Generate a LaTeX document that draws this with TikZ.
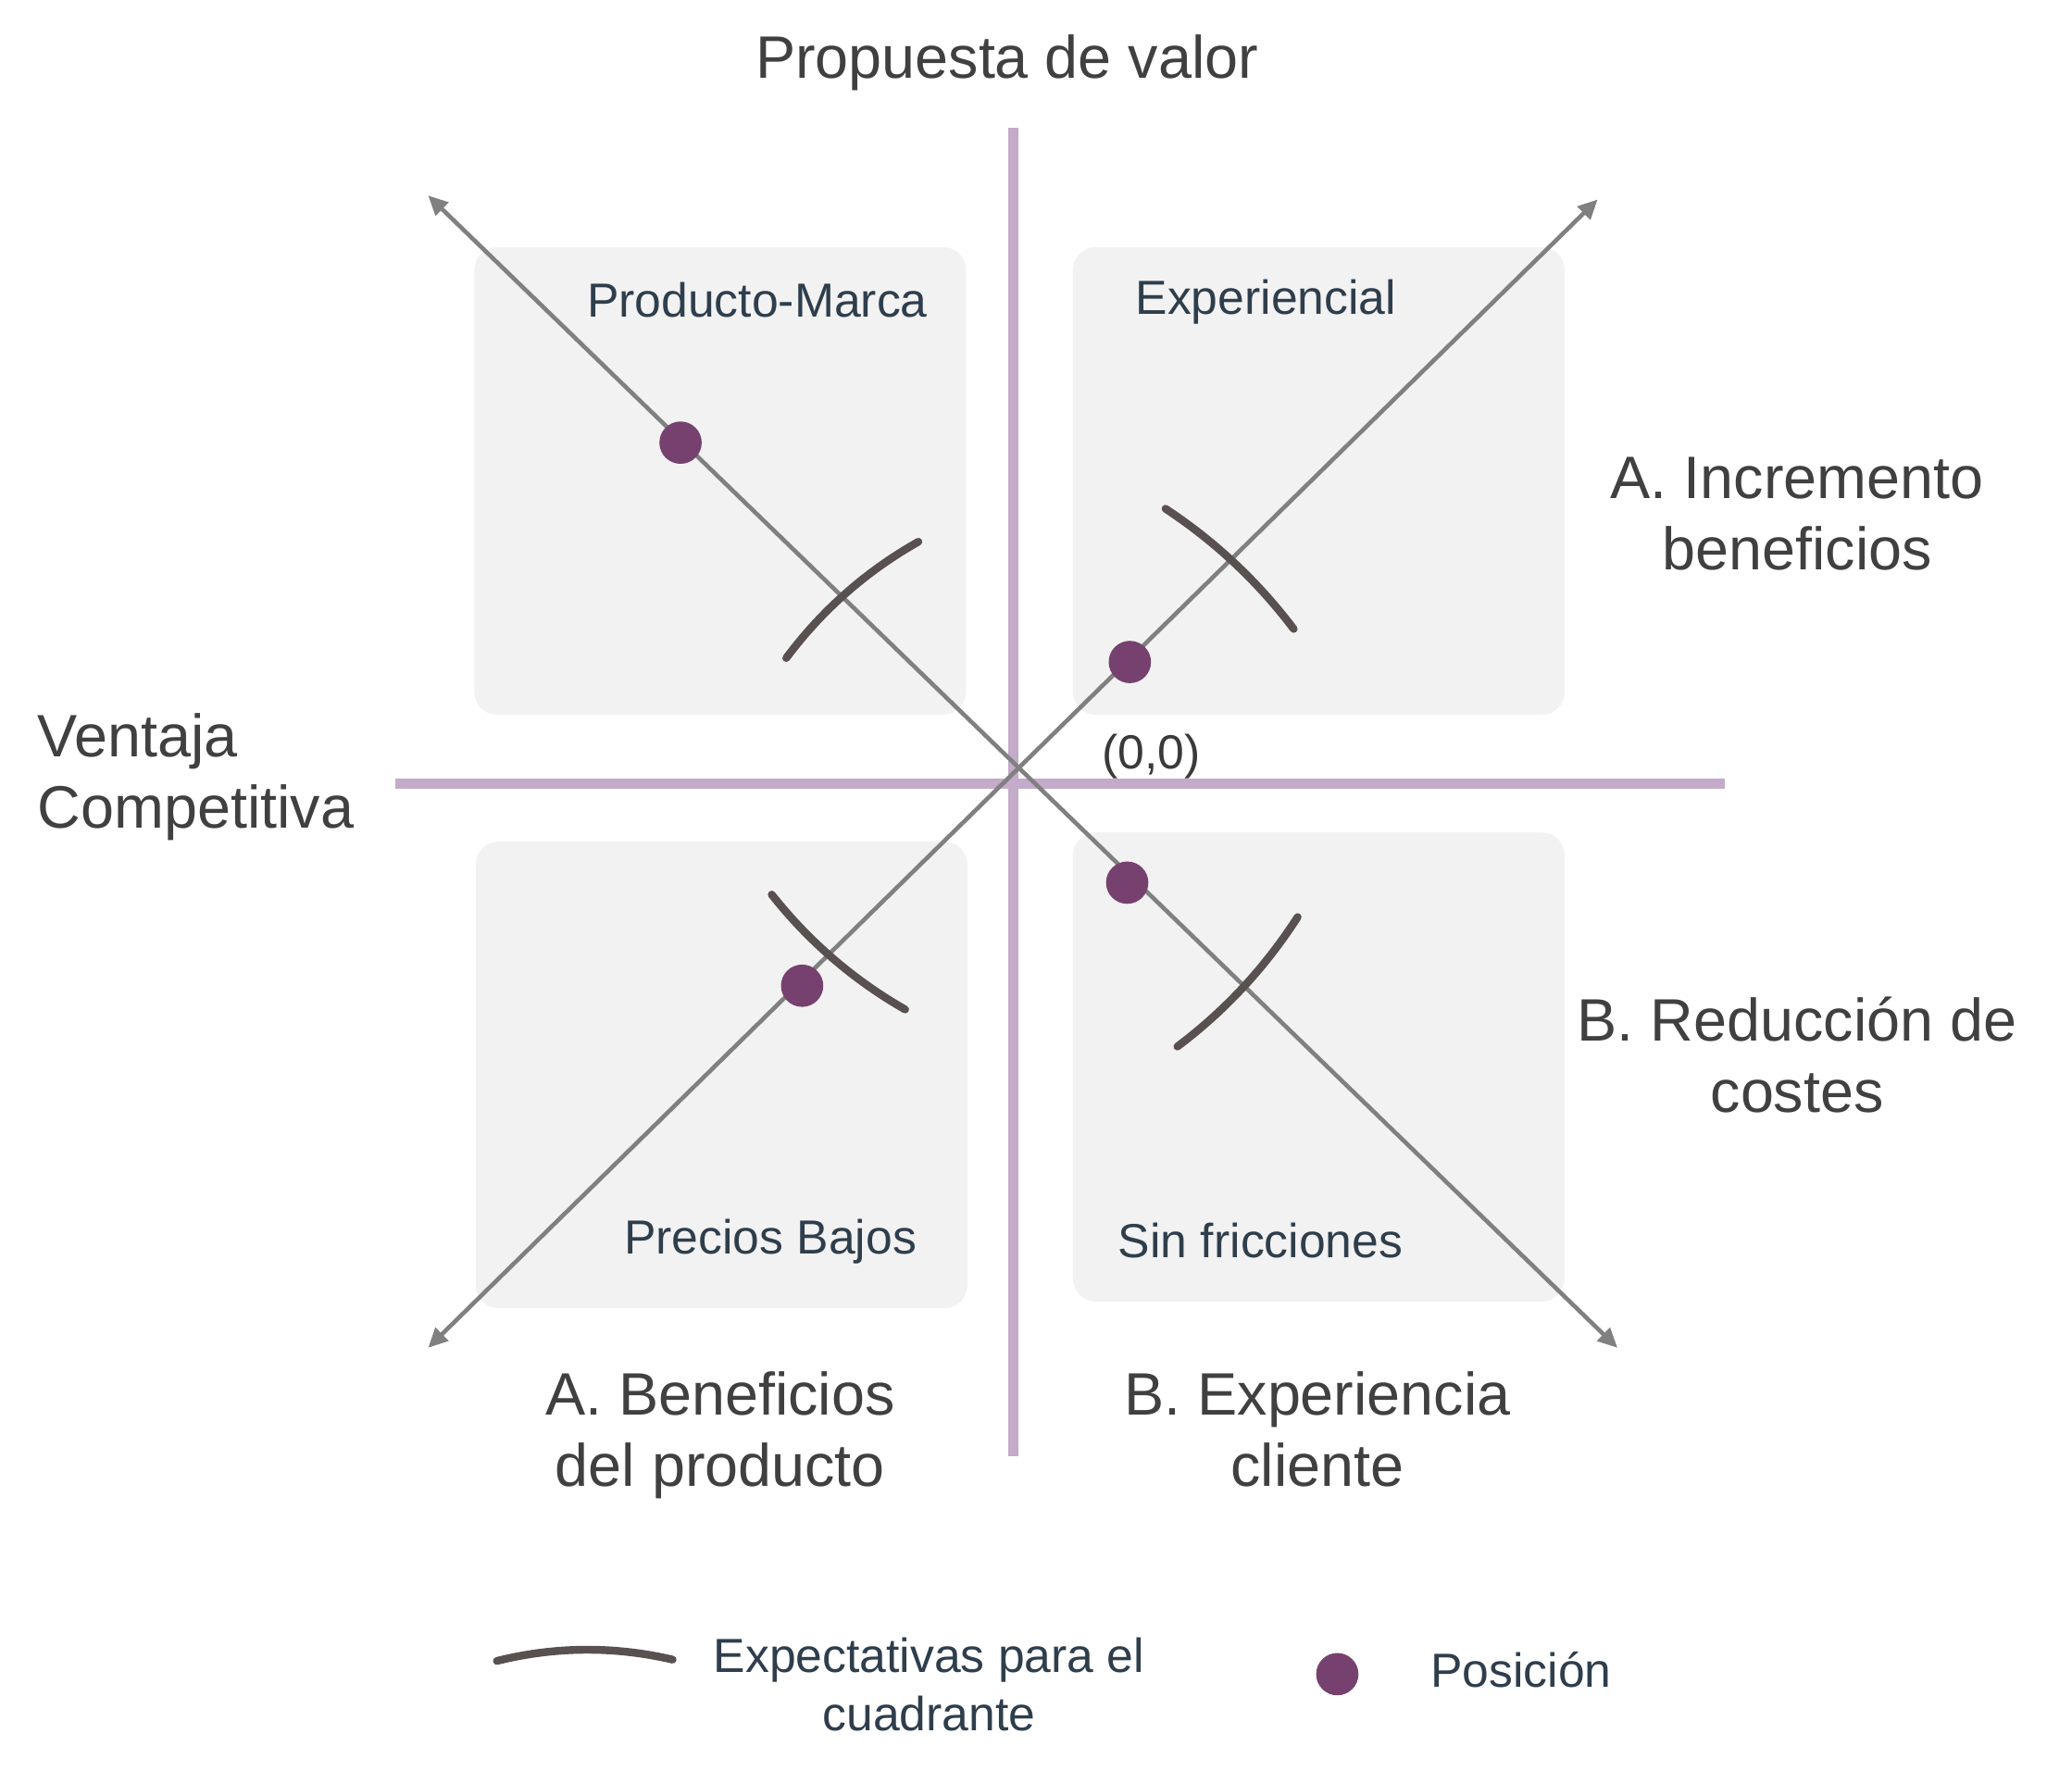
\documentclass[tikz,border=0pt]{standalone}
\usepackage{fontspec}
\setmainfont{Liberation Sans}
\usetikzlibrary{arrows.meta}
\definecolor{axispurple}{HTML}{C3ABC9}
\definecolor{boxgray}{HTML}{F2F2F2}
\definecolor{diaggray}{HTML}{808080}
\definecolor{expcol}{HTML}{595050}
\definecolor{dotcol}{HTML}{77416F}
\definecolor{bigtext}{HTML}{404040}
\definecolor{smalltext}{HTML}{2F3E4C}
\begin{document}
\begin{tikzpicture}[x=0.014273cm,y=-0.014273cm,
  quad/.style={fill=boxgray, rounded corners=7pt},
  axisline/.style={draw=axispurple, line width=3.1pt},
  diag/.style={draw=diaggray, line width=1.3pt, {Triangle[length=6pt,width=5.5pt]}-{Triangle[length=6pt,width=5.5pt]}},
  expect/.style={draw=expcol, line width=2.4pt, line cap=round},
  posdot/.style={circle, fill=dotcol, minimum size=13pt, inner sep=0pt},
  big/.style={text=bigtext, font=\fontsize{18.4}{21.9}\selectfont, inner sep=0pt},
  small/.style={text=smalltext, font=\fontsize{14.7}{17.9}\selectfont, inner sep=0pt}]
\useasboundingbox[fill=white] (0,0) rectangle (1568,1340);
% quadrant boxes
\path[quad] (359,187) rectangle (731,541);
\path[quad] (812,187) rectangle (1184,541);
\path[quad] (360,637) rectangle (732,990);
\path[quad] (812,630) rectangle (1184,985);
% axes
\coordinate (vtop) at (767,97);
\coordinate (vbot) at (767,1102);
\coordinate (hleft) at (299,593);
\coordinate (hright) at (1305,593);
\draw[axisline] (vtop) -- (vbot);
\draw[axisline] (hleft) -- (hright);
% diagonals
\coordinate (nw) at (324,148);
\coordinate (se) at (1224,1020);
\coordinate (ne) at (1209,151);
\coordinate (sw) at (324,1020);
\draw[diag] (nw) -- (se);
\draw[diag] (sw) -- (ne);
% expectation curves
\coordinate (e1a) at (595,498); \coordinate (e1b) at (695,410);
\coordinate (e2a) at (882,385); \coordinate (e2b) at (979,476);
\coordinate (e3a) at (584,677); \coordinate (e3b) at (685,764);
\coordinate (e4a) at (982,694); \coordinate (e4b) at (891,792);
\draw[expect] (e1a) .. controls (622.2,461.6) and (655.5,432.3) .. (e1b);
\draw[expect] (e2a) .. controls (919.5,409.7) and (951.9,440.1) .. (e2b);
\draw[expect] (e3a) .. controls (612.1,712.5) and (645.7,741.5) .. (e3b);
\draw[expect] (e4a) .. controls (957.5,732.1) and (927.2,764.8) .. (e4b);
% position dots
\node[posdot] (p1) at (515,335) {};
\node[posdot] (p2) at (855,501) {};
\node[posdot] (p3) at (607,746) {};
\node[posdot] (p4) at (853,668) {};
% texts
\node[big, anchor=base] (title) at (762,59) {Propuesta de valor};
\node[big, anchor=base west, align=left] (ventaja) at (28,627) {Ventaja\\Competitiva};
\node[big, anchor=base, align=center] (incr) at (1360,431) {A. Incremento\\beneficios};
\node[big, anchor=base, align=center] (reduc) at (1360,842) {B. Reducción de\\costes};
\node[big, anchor=base, align=center] (benef) at (545,1125) {A. Beneficios\\del producto};
\node[big, anchor=base, align=center] (exper) at (997,1125) {B. Experiencia\\cliente};
\node[small, anchor=base] (q1) at (573,240) {Producto-Marca};
\node[small, anchor=base] (q2) at (958,238) {Experiencial};
\node[small, anchor=base] (q3) at (583,949) {Precios Bajos};
\node[small, anchor=base] (q4) at (954,952) {Sin fricciones};
\node[small, anchor=base, text=bigtext!90!black] (origin) at (871,582) {(0,0)};
% legend
\coordinate (la) at (376,1257);
\coordinate (lb) at (509,1256);
\draw[expect] (la) .. controls (420.3,1246) and (464.7,1245.7) .. (lb);
\node[small, anchor=base, align=center] (lt1) at (703,1310) {Expectativas para el\\cuadrante};
\node[posdot] (ldot) at (1012,1267) {};
\node[small, anchor=base] (lt2) at (1151,1277) {Posición};
\end{tikzpicture}
\end{document}
